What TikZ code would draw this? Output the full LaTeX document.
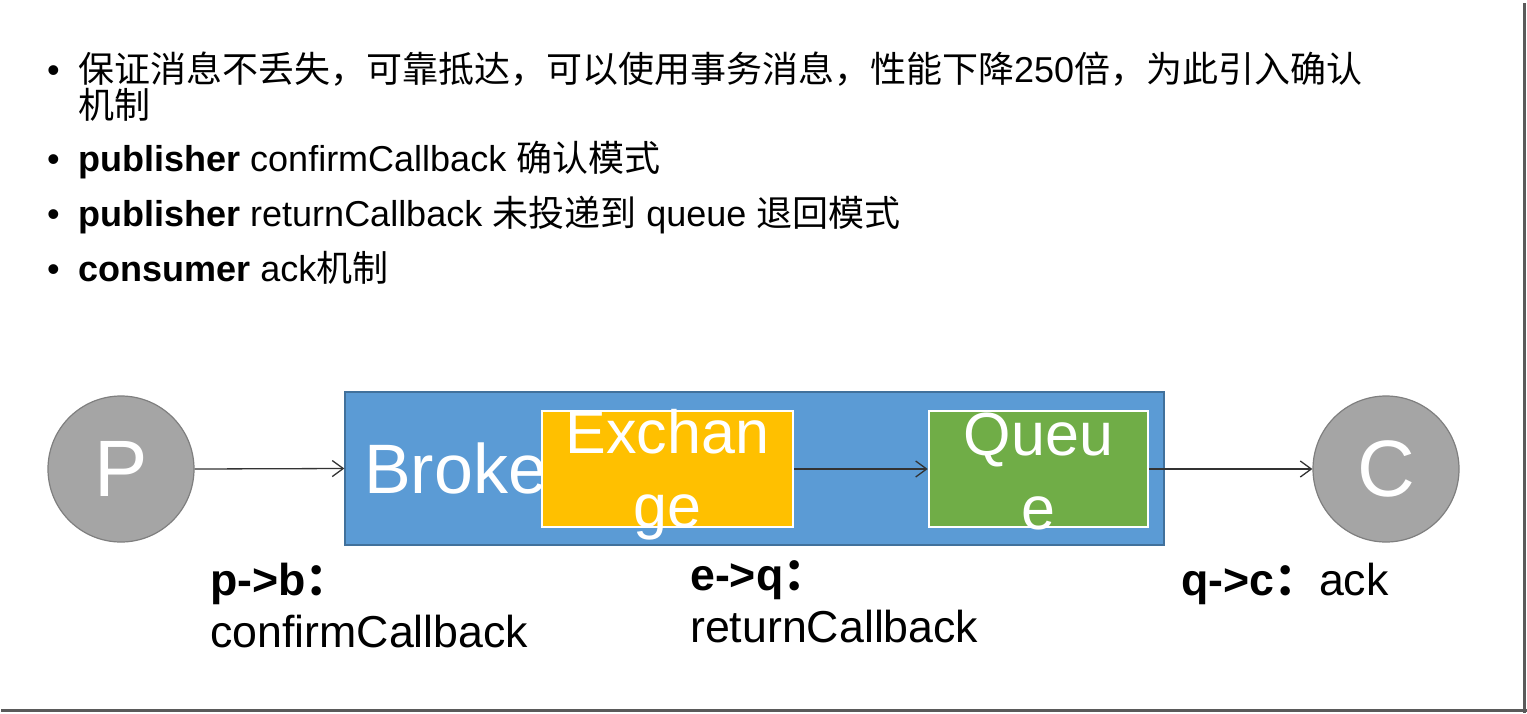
\documentclass[tikz,border=0pt]{standalone}
\usepackage{fontspec}
\setmainfont{Liberation Sans}
\newfontfamily\cjk{Noto Sans CJK SC}
\usetikzlibrary{arrows.meta}
\definecolor{brokerblue}{HTML}{5B9BD5}
\definecolor{brokeredge}{HTML}{41719C}
\definecolor{exorange}{HTML}{FFC000}
\definecolor{qgreen}{HTML}{70AD47}
\definecolor{circgray}{HTML}{A5A5A5}
\definecolor{circedge}{HTML}{7F7F7F}
\definecolor{framegray}{HTML}{5A5A5A}
\begin{document}
\begin{tikzpicture}[x=1pt,y=-1pt,
  circ/.style={circle,fill=circgray,draw=circedge,line width=1.2pt,minimum size=146pt,inner sep=0pt,text=white,font=\fontsize{80}{96}\selectfont},
  inbox/.style={rectangle,draw=white,line width=2.5pt,minimum height=116pt,inner sep=0pt},
  boxtext/.style={anchor=base,text=white,font=\fontsize{61}{73}\selectfont,inner sep=0pt},
  arr/.style={-{Straight Barb[length=11pt,width=16pt]},line width=1.3pt,draw=black!80},
  bullettext/.style={anchor=base west,inner sep=0pt,font=\fontsize{36}{36}\selectfont},
  lbl/.style={anchor=base west,inner sep=0pt,font=\fontsize{44.7}{44.7}\selectfont}]
\useasboundingbox (0,0) rectangle (1527,713);
\fill[white] (0,0) rectangle (1527,713);
% frame shadow
\draw[framegray,line width=3pt] (1524.5,3) -- (1524.5,713);
\draw[framegray,line width=3pt] (1,710.5) -- (1527,710.5);

% bullets
\foreach \y/\n in {82/d1,171/d3,226/d4,281/d5}
  \node[bullettext] (\n) at (47,\y) {•};
\node[bullettext] (b1) at (78,82) {{\cjk 保证消息不丢失，可靠抵达，可以使用事务消息，性能下降}250{\cjk 倍，为此引入确认}};
\node[bullettext] (b2) at (78,118) {{\cjk 机制}};
\node[bullettext] (b3) at (78,171) {\textbf{publisher} confirmCallback {\cjk 确认模式}};
\node[bullettext] (b4) at (78,226) {\textbf{publisher} returnCallback {\cjk 未投递到} queue {\cjk 退回模式}};
\node[bullettext] (b5) at (78,281) {\textbf{consumer} ack{\cjk 机制}};

% diagram
\node[circ] (p) at (121,469) {P};
\node[circ] (c) at (1386,469) {C};
\node[rectangle,fill=brokerblue,draw=brokeredge,line width=1.3pt,minimum width=819pt,minimum height=153pt,inner sep=0pt] (broker) at (754.5,468.5) {};
\node[anchor=base west,inner sep=0pt,text=white,font=\fontsize{70}{84}\selectfont] (brokertext) at (364,493) {Broker};
\node[inbox,fill=exorange,minimum width=251pt] (ex) at (667.5,469) {};
\node[inbox,fill=qgreen,minimum width=219pt] (q) at (1038.5,469) {};
\node[boxtext] (ex1) at (667.5,453) {Exchan};
\node[boxtext] (ex2) at (667.5,527) {ge};
\node[boxtext] (q1) at (1038.5,455) {Queu};
\node[boxtext] (q2) at (1038.5,529) {e};

\draw[arr] (p.east) -- (broker.west);
\draw[arr] (ex.east) -- (q.west);
\draw[arr] (q.east) -- (c.west);

% labels
\node[lbl] (pb) at (210,595) {\textbf{p->b{\cjk ：}}};
\node[lbl] (cc) at (210,647) {confirmCallback};
\node[lbl] (eq) at (690,590) {\textbf{e->q{\cjk ：}}};
\node[lbl] (rc) at (690,642) {returnCallback};
\node[lbl] (qc) at (1181,595) {\textbf{q->c{\cjk ：}}ack};
\end{tikzpicture}
\end{document}
